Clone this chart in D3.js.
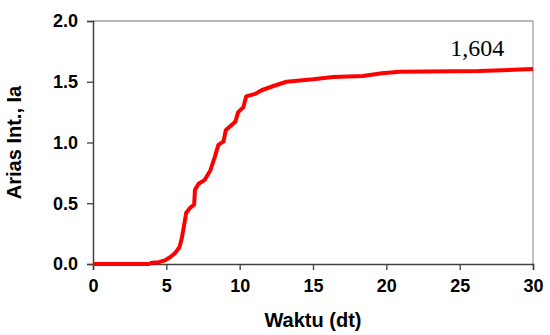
<!DOCTYPE html>
<html lang="en">
<head>
  <meta charset="UTF-8">
  <title>Arias Intensity</title>
  <script src="https://d3js.org/d3.v7.min.js"></script>
  <style>
    body {
      margin: 0;
      background: #fff;
    }
    text.tick-label {
      font-family: 'Liberation Sans', Arial, sans-serif;
      font-weight: bold;
      font-size: 18px;
      fill: #000;
    }
    text.title {
      font-family: 'Liberation Sans', Arial, sans-serif;
      font-weight: bold;
      font-size: 20px;
      fill: #000;
    }
  </style>
</head>
<body>

<svg width="550" height="335"></svg>

<script>
  const width = 550, height = 335;
  const margin = {top: 21, right: 17, bottom: 71, left: 93};

  // time (dt) and cumulative Arias intensity
  const waktu = [0, 3.8, 4.0, 4.5, 4.9, 5.3, 5.6, 5.9, 6.05, 6.2, 6.35, 6.6, 6.9, 6.95,
    7.2, 7.6, 8.0, 8.3, 8.55, 8.9, 9.05, 9.7, 9.9, 10.25, 10.45, 11.05, 11.5, 12.3,
    13.2, 15.0, 16.4, 18.4, 19.7, 20.9, 26.3, 29.1, 30];
  const arias = [0, 0, 0.01, 0.015, 0.03, 0.06, 0.09, 0.14, 0.21, 0.31, 0.42, 0.46, 0.49, 0.61,
    0.66, 0.69, 0.77, 0.88, 0.98, 1.01, 1.10, 1.17, 1.25, 1.29, 1.38, 1.40, 1.43, 1.465,
    1.50, 1.52, 1.54, 1.547, 1.57, 1.583, 1.588, 1.60, 1.604];
  const xTicks = [0, 5, 10, 15, 20, 25, 30];
  const yTicks = [0, 0.5, 1.0, 1.5, 2.0];
  const finalLabel = "1,604";

  const svg = d3.select("svg");

  const x = d3.scaleLinear().domain([0, 30]).range([margin.left, width - margin.right]);
  const y = d3.scaleLinear().domain([0, 2]).range([height - margin.bottom, margin.top]);

  // frame: light top / right edges
  svg.append("path")
    .attr("d", `M${x(0)},${y(2)}H${x(30)}V${y(0)}`)
    .attr("fill", "none")
    .attr("stroke", "#a0a0a0")
    .attr("stroke-width", 1.3);

  // y axis
  const yAxis = svg.append("g")
    .attr("transform", `translate(${x(0)},0)`)
    .call(d3.axisLeft(y).tickValues(yTicks).tickSize(6).tickPadding(9).tickFormat(d3.format(".1f")));
  yAxis.select(".domain").attr("stroke", "#404040").attr("stroke-width", 1.5);
  yAxis.selectAll(".tick line").attr("stroke", "#404040").attr("stroke-width", 1.3);
  yAxis.selectAll(".tick text").attr("class", "tick-label").attr("font-family", null).attr("font-size", null);

  // x axis
  const xAxis = svg.append("g")
    .attr("transform", `translate(0,${y(0)})`)
    .call(d3.axisBottom(x).tickValues(xTicks).tickSize(6).tickPadding(9).tickFormat(d3.format("d")));
  xAxis.select(".domain").attr("stroke", "#404040").attr("stroke-width", 1.5);
  xAxis.selectAll(".tick line").attr("stroke", "#404040").attr("stroke-width", 1.3);
  xAxis.selectAll(".tick text").attr("class", "tick-label").attr("font-family", null).attr("font-size", null);

  // curve
  const line = d3.line()
    .x((d, i) => x(waktu[i]))
    .y(d => y(d));

  svg.append("path")
    .datum(arias)
    .attr("fill", "none")
    .attr("stroke", "#ff0000")
    .attr("stroke-width", 4)
    .attr("stroke-linejoin", "round")
    .attr("d", line);

  // final value
  svg.append("text")
    .attr("x", x(26.2))
    .attr("y", 56)
    .attr("text-anchor", "middle")
    .style("font-family", "'Liberation Serif', 'Times New Roman', serif")
    .style("font-size", "24px")
    .text(finalLabel);

  // axis titles
  svg.append("text")
    .attr("class", "title")
    .attr("x", (x(0) + x(30)) / 2)
    .attr("y", 327)
    .attr("text-anchor", "middle")
    .text("Waktu (dt)");

  svg.append("text")
    .attr("class", "title")
    .attr("transform", `translate(21,${(y(0) + y(2)) / 2}) rotate(-90)`)
    .attr("text-anchor", "middle")
    .text("Arias Int., Ia");
</script>

</body>
</html>
